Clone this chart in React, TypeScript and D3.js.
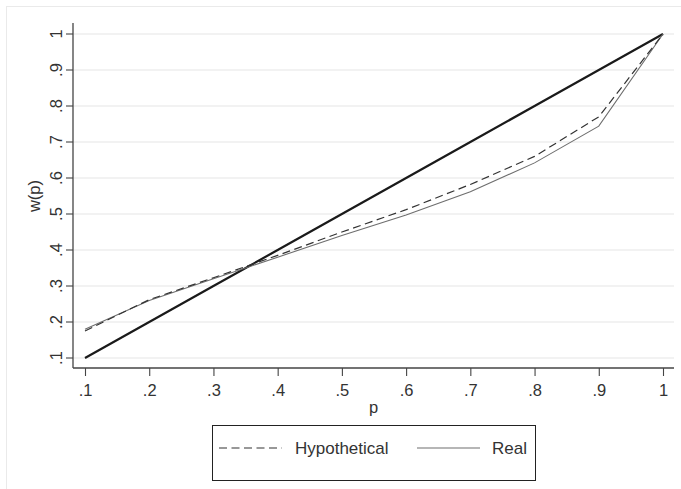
import React, { useEffect, useRef } from 'react';
import * as d3 from 'd3';

// values
const probs = [0.1, 0.2, 0.3, 0.4, 0.5, 0.6, 0.7, 0.8, 0.9, 1];
const hypothetical = [0.175, 0.262, 0.323, 0.385, 0.45, 0.512, 0.582, 0.66, 0.77, 1];
const real = [0.18, 0.26, 0.32, 0.38, 0.44, 0.497, 0.562, 0.642, 0.744, 1];
const tickVals = [0.1, 0.2, 0.3, 0.4, 0.5, 0.6, 0.7, 0.8, 0.9, 1];
const fmt = (v: number) => (v === 1 ? '1' : d3.format('.1f')(v).replace(/^0/, ''));

const FONT = 'Liberation Sans, Arial, sans-serif';

const App = () => {
  const svgRef = useRef<SVGSVGElement>(null);

  useEffect(() => {
    const svg = d3.select(svgRef.current);
    svg.selectAll('*').remove();

    const W = 681;
    const H = 489;
    const plot = { left: 73, right: 674, top: 23, bottom: 368 };

    const x = d3.scaleLinear().domain([0.1, 1]).range([85, 663]);
    const y = d3.scaleLinear().domain([0.1, 1]).range([358, 34]);

    svg.append('rect').attr('width', W).attr('height', H).attr('fill', '#fff');
    // outer frame
    svg
      .append('rect')
      .attr('x', 6.5)
      .attr('y', 6.5)
      .attr('width', W)
      .attr('height', H)
      .attr('fill', 'none')
      .attr('stroke', '#eaeaea');

    // gridlines
    svg
      .append('g')
      .selectAll('line')
      .data(tickVals)
      .enter()
      .append('line')
      .attr('x1', plot.left)
      .attr('x2', plot.right)
      .attr('y1', (d) => y(d))
      .attr('y2', (d) => y(d))
      .attr('stroke', '#e6e6e6')
      .attr('stroke-width', 1.2);

    // y axis: ticks and rotated labels
    const yt = svg.append('g').selectAll('g').data(tickVals).enter().append('g');
    yt.append('line')
      .attr('x1', plot.left - 7)
      .attr('x2', plot.left)
      .attr('y1', (d) => y(d))
      .attr('y2', (d) => y(d))
      .attr('stroke', '#444')
      .attr('stroke-width', 1.1);
    yt.append('text')
      .attr('transform', (d) => `translate(${plot.left - 11},${y(d)}) rotate(-90)`)
      .attr('text-anchor', 'middle')
      .style('font-family', FONT)
      .style('font-size', '16.5px')
      .attr('fill', '#333')
      .text((d) => fmt(d));
    svg
      .append('line')
      .attr('x1', plot.left)
      .attr('x2', plot.left)
      .attr('y1', plot.top)
      .attr('y2', plot.bottom)
      .attr('stroke', '#444')
      .attr('stroke-width', 1.3);

    // x axis
    const xAxis = svg
      .append('g')
      .attr('transform', `translate(0,${plot.bottom})`)
      .call(d3.axisBottom(x).tickValues(tickVals).tickFormat((d) => fmt(+d)).tickSize(8).tickSizeOuter(0));
    xAxis.select('.domain').remove();
    xAxis.selectAll('line').attr('stroke', '#444').attr('stroke-width', 1.1);
    xAxis
      .selectAll('text')
      .attr('y', 28)
      .attr('dy', 0)
      .style('font-family', FONT)
      .style('font-size', '16.5px')
      .attr('fill', '#333');
    svg
      .append('line')
      .attr('x1', plot.left)
      .attr('x2', plot.right)
      .attr('y1', plot.bottom)
      .attr('y2', plot.bottom)
      .attr('stroke', '#444')
      .attr('stroke-width', 1.3);

    // axis titles
    svg
      .append('text')
      .attr('x', (plot.left + plot.right) / 2)
      .attr('y', 413)
      .attr('text-anchor', 'middle')
      .style('font-family', FONT)
      .style('font-size', '16.5px')
      .attr('fill', '#333')
      .text('p');
    svg
      .append('text')
      .attr('transform', `translate(40,196) rotate(-90)`)
      .attr('text-anchor', 'middle')
      .style('font-family', FONT)
      .style('font-size', '16.5px')
      .attr('fill', '#333')
      .text('w(p)');

    const line = d3
      .line<[number, number]>()
      .x((d) => x(d[0]))
      .y((d) => y(d[1]));

    // 45 degree reference
    svg
      .append('path')
      .attr('d', line(probs.map((p) => [p, p] as [number, number])))
      .attr('fill', 'none')
      .attr('stroke', '#1a1a1a')
      .attr('stroke-width', 2.2);

    svg
      .append('path')
      .attr('d', line(probs.map((p, i) => [p, real[i]] as [number, number])))
      .attr('fill', 'none')
      .attr('stroke', '#6e6e6e')
      .attr('stroke-width', 1.1);

    svg
      .append('path')
      .attr('d', line(probs.map((p, i) => [p, hypothetical[i]] as [number, number])))
      .attr('fill', 'none')
      .attr('stroke', '#333')
      .attr('stroke-width', 1.2)
      .attr('stroke-dasharray', '8,4.5');

    // legend
    const lg = svg.append('g');
    lg.append('rect')
      .attr('x', 212.5)
      .attr('y', 425.5)
      .attr('width', 323)
      .attr('height', 55)
      .attr('fill', '#fff')
      .attr('stroke', '#222');
    lg.append('line')
      .attr('x1', 219)
      .attr('x2', 282)
      .attr('y1', 448)
      .attr('y2', 448)
      .attr('stroke', '#333')
      .attr('stroke-width', 1.2)
      .attr('stroke-dasharray', '8,4.5');
    lg.append('text')
      .attr('x', 295)
      .attr('y', 454)
      .style('font-family', FONT)
      .style('font-size', '17px')
      .attr('fill', '#333')
      .text('Hypothetical');
    lg.append('line')
      .attr('x1', 417)
      .attr('x2', 480)
      .attr('y1', 448)
      .attr('y2', 448)
      .attr('stroke', '#6e6e6e')
      .attr('stroke-width', 1.1);
    lg.append('text')
      .attr('x', 492)
      .attr('y', 454)
      .style('font-family', FONT)
      .style('font-size', '17px')
      .attr('fill', '#333')
      .text('Real');
  }, []);

  return <svg ref={svgRef} width={681} height={489} style={{ position: 'absolute', left: 0, top: 0 }} />;
};

export default App;
